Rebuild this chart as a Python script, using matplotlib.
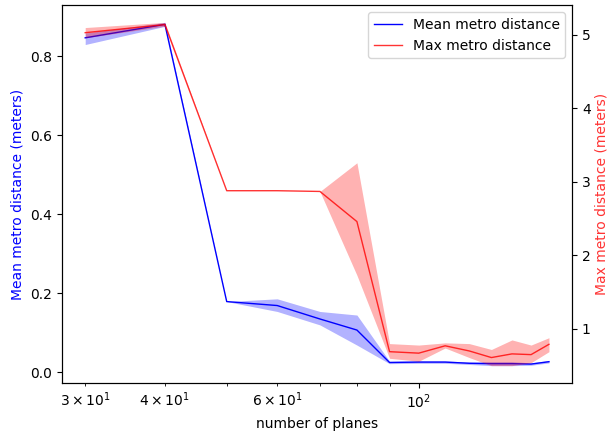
import matplotlib
matplotlib.use("Agg")
import matplotlib.pyplot as plt

# number of planes
planes = [30, 40, 50, 60, 70, 80, 90, 100, 110, 120, 130, 140, 150, 160]

# mean metro distance (left axis) with band
mean_dist = [0.846, 0.880, 0.179, 0.169, 0.135, 0.107, 0.025, 0.026, 0.026, 0.023, 0.022, 0.022, 0.021, 0.027]
mean_lo   = [0.829, 0.875, 0.179, 0.154, 0.120, 0.069, 0.022, 0.023, 0.023, 0.020, 0.017, 0.017, 0.018, 0.024]
mean_hi   = [0.858, 0.885, 0.179, 0.186, 0.154, 0.145, 0.028, 0.029, 0.029, 0.026, 0.027, 0.027, 0.024, 0.030]

# max metro distance (right axis) with band
max_dist = [5.03, 5.14, 2.88, 2.88, 2.87, 2.46, 0.69, 0.67, 0.77, 0.70, 0.61, 0.66, 0.65, 0.79]
max_lo   = [4.96, 5.12, 2.88, 2.88, 2.87, 1.73, 0.60, 0.56, 0.74, 0.61, 0.50, 0.50, 0.54, 0.69]
max_hi   = [5.10, 5.17, 2.88, 2.88, 2.87, 3.26, 0.80, 0.78, 0.81, 0.80, 0.72, 0.85, 0.78, 0.88]

fig, ax1 = plt.subplots(figsize=(6.08, 4.36), dpi=100)
ax2 = ax1.twinx()

l1, = ax1.plot(planes, mean_dist, color="blue", linewidth=1.0, label="Mean metro distance")
ax1.fill_between(planes, mean_lo, mean_hi, color="blue", alpha=0.3, linewidth=0)
ax1.set_xscale("log")
ax1.set_xlabel("number of planes")
ax1.set_ylabel("Mean metro distance (meters)", color="blue")

l2, = ax2.plot(planes, max_dist, color="red", alpha=0.8, linewidth=1.0, label="Max metro distance")
ax2.fill_between(planes, max_lo, max_hi, color="red", alpha=0.3, linewidth=0)
ax2.set_ylabel("Max metro distance (meters)", color="red", alpha=0.8, labelpad=3)

ax2.legend(handles=[l1, l2], loc="upper right")

fig.subplots_adjust(left=0.102, right=0.941, top=0.988, bottom=0.122)
fig.savefig("out.png")
